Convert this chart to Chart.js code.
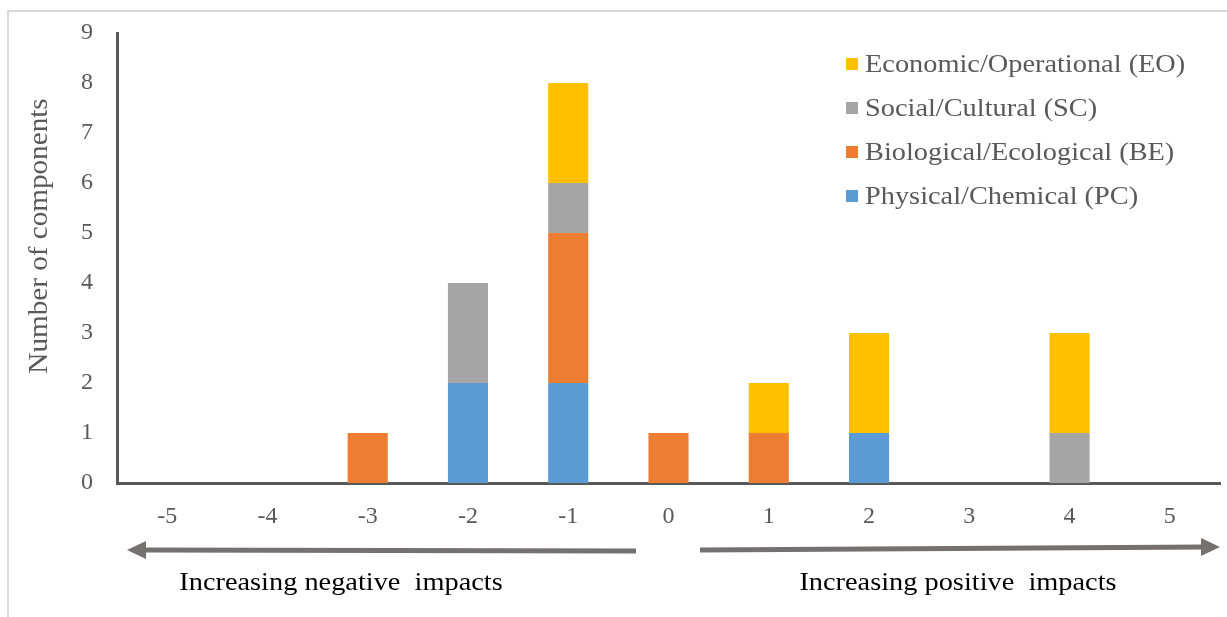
<!DOCTYPE html>
<html>
<head>
<meta charset="utf-8">
<script src="https://cdn.jsdelivr.net/npm/chart.js@4"></script>
<style>
html,body{margin:0;padding:0;background:#fff;}
#wrap{width:1227px;height:617px;position:relative;}
</style>
</head>
<body>
<div id="wrap"><canvas id="c" width="1227" height="617"></canvas></div>
<script>
const categories = ['-5','-4','-3','-2','-1','0','1','2','3','4','5'];
const pcValues = [0,0,0,2,2,0,0,1,0,0,0];
const beValues = [0,0,1,0,3,1,1,0,0,0,0];
const scValues = [0,0,0,2,1,0,0,0,0,1,0];
const eoValues = [0,0,0,0,2,0,1,2,0,2,0];
const yTicks = [0,1,2,3,4,5,6,7,8,9];
const seriesNames = ['Physical/Chemical (PC)','Biological/Ecological (BE)','Social/Cultural (SC)','Economic/Operational (EO)'];
const seriesColors = ['#5B9BD5','#ED7D31','#A5A5A5','#FFC000'];
const yTitle = 'Number of components';
const leftNote = 'Increasing negative  impacts';
const rightNote = 'Increasing positive  impacts';

const serif = "'Liberation Serif','Times New Roman',serif";
const greyText = '#595959';
const SX = 1.09;

function stretchedText(ctx, text, x, y, align) {
  ctx.save();
  ctx.translate(x, y);
  ctx.scale(SX, 1);
  ctx.textAlign = align;
  ctx.fillText(text, 0, 0);
  ctx.restore();
}

const extras = {
  id: 'extras',
  afterDraw(chart) {
    const ctx = chart.ctx;
    ctx.save();
    // frame
    ctx.strokeStyle = '#d9d9d9';
    ctx.lineWidth = 2;
    ctx.beginPath();
    ctx.moveTo(8, 640); ctx.lineTo(8, 11); ctx.lineTo(1240, 11);
    ctx.stroke();
    // y title
    ctx.fillStyle = greyText;
    ctx.font = '27px ' + serif;
    ctx.textAlign = 'center';
    ctx.textBaseline = 'middle';
    ctx.translate(40, 236);
    ctx.rotate(-Math.PI/2);
    ctx.scale(1.08, 1);
    ctx.fillText(yTitle, 0, 0);
    ctx.restore();

    // legend (reversed)
    ctx.save();
    ctx.font = '26px ' + serif;
    ctx.textBaseline = 'middle';
    const order = [3,2,1,0];
    order.forEach((di, i) => {
      const y = 64 + i * 44;
      ctx.fillStyle = chart.data.datasets[di].backgroundColor;
      ctx.fillRect(846, y - 6, 12, 12);
      ctx.fillStyle = greyText;
      stretchedText(ctx, chart.data.datasets[di].label, 865, y + 1, 'left');
    });
    ctx.restore();

    // arrows
    ctx.save();
    ctx.strokeStyle = '#767171';
    ctx.fillStyle = '#767171';
    ctx.lineWidth = 5;
    ctx.beginPath();
    ctx.moveTo(636, 551); ctx.lineTo(140, 550);
    ctx.stroke();
    ctx.beginPath();
    ctx.moveTo(127, 550); ctx.lineTo(146, 541); ctx.lineTo(146, 559); ctx.closePath();
    ctx.fill();
    ctx.beginPath();
    ctx.moveTo(700, 550); ctx.lineTo(1206, 547);
    ctx.stroke();
    ctx.beginPath();
    ctx.moveTo(1220, 547); ctx.lineTo(1201, 538); ctx.lineTo(1201, 556); ctx.closePath();
    ctx.fill();
    // notes
    ctx.fillStyle = '#000';
    ctx.font = '26px ' + serif;
    ctx.textBaseline = 'middle';
    stretchedText(ctx, leftNote, 341, 583, 'center');
    stretchedText(ctx, rightNote, 958, 583, 'center');
    ctx.restore();
  }
};

new Chart(document.getElementById('c'), {
  type: 'bar',
  data: {
    labels: categories,
    datasets: [
      {label: seriesNames[0], data: pcValues, backgroundColor: seriesColors[0]},
      {label: seriesNames[1], data: beValues, backgroundColor: seriesColors[1]},
      {label: seriesNames[2], data: scValues, backgroundColor: seriesColors[2]},
      {label: seriesNames[3], data: eoValues, backgroundColor: seriesColors[3]}
    ]
  },
  options: {
    responsive: false,
    animation: false,
    devicePixelRatio: 1,
    layout: {padding: {left: 0, right: 7, top: 33, bottom: 0}},
    datasets: {bar: {barPercentage: 0.4, categoryPercentage: 1.0, borderWidth: 0}},
    plugins: {legend: {display: false}, tooltip: {enabled: false}},
    scales: {
      x: {
        stacked: true,
        grid: {display: false, drawTicks: false},
        border: {display: true, color: '#595959', width: 3},
        ticks: {color: greyText, font: {family: serif, size: 24}, padding: 19, maxRotation: 0},
        afterFit(s) { s.height = 134; s.paddingLeft = 0; s.paddingRight = 0; }
      },
      y: {
        stacked: true,
        min: 0, max: 9,
        afterBuildTicks(s) { s.ticks = yTicks.map(v => ({value: v})); },
        grid: {display: false, drawTicks: false},
        border: {display: true, color: '#595959', width: 3},
        ticks: {color: greyText, font: {family: serif, size: 24}, padding: 24, stepSize: 1},
        afterFit(s) { s.width = 117; s.paddingTop = 0; s.paddingBottom = 0; }
      }
    }
  },
  plugins: [extras]
});
</script>
</body>
</html>
